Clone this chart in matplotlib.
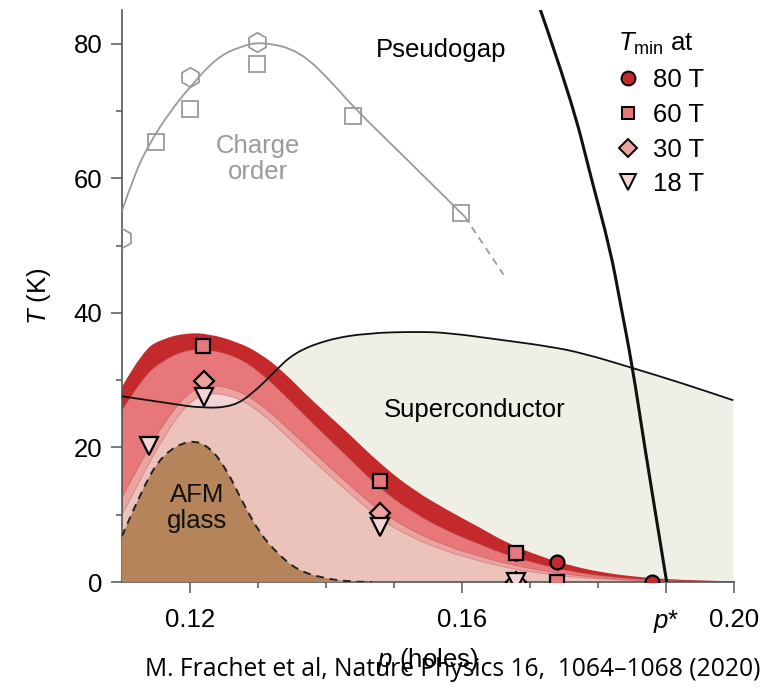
import numpy as np
import matplotlib
matplotlib.use("Agg")
import matplotlib.pyplot as plt
from matplotlib.lines import Line2D
from matplotlib.path import Path
from matplotlib.patches import PathPatch

plt.rcParams['font.family'] = ['Liberation Sans', 'DejaVu Sans']
plt.rcParams['mathtext.fontset'] = 'custom'
plt.rcParams['mathtext.it'] = 'Liberation Sans:italic'
plt.rcParams['mathtext.rm'] = 'Liberation Sans'

# superconducting dome (Tc line)
sc_p = [0.1100, 0.1166, 0.1220, 0.1264, 0.1293, 0.1322, 0.1352, 0.1401, 0.1460,
        0.1538, 0.1582, 0.1656, 0.1729, 0.1778, 0.1851, 0.1925, 0.1999]
sc_T = [27.6, 26.6, 25.8, 26.1, 28.1, 31.0, 34.0, 36.0, 37.0,
        37.2, 37.0, 36.0, 35.0, 34.0, 31.8, 29.5, 27.0]

# T_min regions (upper boundaries), shared p grid
band_p = [0.1100, 0.1131, 0.1161, 0.1195, 0.1227, 0.1269, 0.1303, 0.1337, 0.1381,
          0.1430, 0.1479, 0.1528, 0.1578, 0.1626, 0.1666, 0.1715, 0.1764, 0.1813,
          0.1862, 0.1921, 0.2000]
T80_edge = [29.0, 34.5, 36.2, 37.0, 36.9, 35.7, 34.0, 31.3, 26.8,
            22.4, 17.6, 13.7, 10.7, 8.1, 5.8, 3.8, 2.3, 1.3, 0.7, 0.3, 0.1]
T60_edge = [25.5, 30.5, 33.0, 34.5, 34.6, 33.5, 31.2, 28.0, 23.5,
            18.8, 13.9, 10.3, 7.6, 5.6, 4.0, 2.6, 1.5, 0.8, 0.4, 0.15, 0.05]
T30_edge = [12.5, 18.5, 23.5, 28.0, 29.4, 28.6, 26.5, 23.5, 19.3,
            14.8, 10.5, 7.5, 5.3, 3.8, 2.7, 1.7, 1.0, 0.5, 0.25, 0.1, 0.03]
T18_edge = [10.0, 16.0, 21.5, 26.5, 28.2, 27.5, 25.3, 22.2, 18.0,
            13.6, 9.3, 6.5, 4.5, 3.1, 2.1, 1.3, 0.7, 0.35, 0.15, 0.05, 0.0]

# AFM glass
afm_p = [0.1100, 0.1131, 0.1161, 0.1200, 0.1229, 0.1254, 0.1278, 0.1303, 0.1328,
         0.1357, 0.1396, 0.1436, 0.1468]
afm_T = [6.8, 14.2, 19.1, 21.2, 20.1, 16.7, 11.7, 7.2, 4.3, 1.8, 0.55, 0.05, 0.0]

# pseudogap T* line
pg_p = [0.1715, 0.1761, 0.1790, 0.1818, 0.1832, 0.1851, 0.1867, 0.1901]
pg_T = [85.1, 71.7, 60.0, 49.4, 41.9, 31.8, 21.1, 0.0]

# charge order
co_p = [0.1100, 0.1117, 0.1141, 0.1170, 0.1200, 0.1239, 0.1274, 0.1307, 0.1362,
        0.1411, 0.1440, 0.1519, 0.1604]
co_T = [55.1, 60.3, 65.3, 69.8, 73.6, 77.9, 79.6, 80.3, 78.9, 74.0, 70.6, 62.8, 54.3]
co_dash_p = [0.1604, 0.1661]
co_dash_T = [54.3, 45.7]
co_sq_p = [0.1150, 0.1200, 0.1298, 0.1439, 0.1598]
co_sq_T = [65.4, 70.3, 77.0, 69.2, 54.8]
co_hex_p = [0.1100, 0.1200, 0.1298]
co_hex_T = [51.1, 75.1, 80.3]

# T_min data points
p80 = [0.1679, 0.1739, 0.1879]
T80 = [4.3, 2.9, 0.0]
p60 = [0.1219, 0.1479, 0.1679, 0.1739]
T60 = [35.0, 15.0, 4.3, 0.0]
p30 = [0.1220, 0.1479, 0.1679]
T30 = [29.8, 10.2, 0.0]
p18 = [0.1140, 0.1220, 0.1479, 0.1679]
T18 = [20.2, 27.5, 8.2, 0.0]

legend_labels = ['80 T', '60 T', '30 T', '18 T']
xtick_pos = [0.12, 0.16, 0.19, 0.20]
xtick_lab = ['0.12', '0.16', '$p$*', '0.20']

c80, c60, c30, c18 = '#c42a2b', '#e8777a', '#eca29f', '#f4d5d6'
c_low = '#ecc3bb'
c_afm = '#b5845a'
c_sc = '#f0efe6'
gray = '#9a9a9a'


def smooth_path(xs, ys, closed=False):
    # quadratic bezier through midpoints, read points act as control points
    verts = [(xs[0], ys[0])]
    codes = [Path.MOVETO]
    for i in range(1, len(xs) - 1):
        verts += [(xs[i], ys[i]), ((xs[i] + xs[i+1]) / 2, (ys[i] + ys[i+1]) / 2)]
        codes += [Path.CURVE3, Path.CURVE3]
    verts.append((xs[-1], ys[-1]))
    codes.append(Path.LINETO)
    if closed:
        verts += [(xs[-1], 0), (xs[0], 0), (xs[0], ys[0])]
        codes += [Path.LINETO, Path.LINETO, Path.CLOSEPOLY]
    return Path(verts, codes)


def area(ax, xs, ys, color, z):
    patch = PathPatch(smooth_path(xs, ys, closed=True), fc=color, ec='none', zorder=z)
    ax.add_patch(patch)
    return patch


def curve(ax, xs, ys, **kw):
    patch = PathPatch(smooth_path(xs, ys), fc='none', **kw)
    ax.add_patch(patch)
    return patch


fig = plt.figure(figsize=(7.76, 6.93), dpi=100)
ax = fig.add_axes([122/776, 1-582/693, (734-122)/776, 572/693])

sc_patch = area(ax, sc_p, sc_T, c_sc, 1)
area(ax, band_p, T80_edge, c80, 2)
area(ax, band_p, T60_edge, c60, 2)
area(ax, band_p, T30_edge, c30, 2)
area(ax, band_p, T18_edge, c18, 2)
low = area(ax, band_p, T18_edge, c_low, 2)
low.set_clip_path(PathPatch(smooth_path(sc_p, sc_T, closed=True), transform=ax.transData))
for edge in (T60_edge, T30_edge, T18_edge):
    curve(ax, band_p, edge, ec='#a85050', lw=0.6, alpha=0.5, zorder=2.5)

area(ax, afm_p, afm_T, c_afm, 3)
curve(ax, afm_p, afm_T, ec='#222222', lw=1.4, ls=(0, (4, 3)), zorder=3.5)

curve(ax, sc_p, sc_T, ec='#111111', lw=1.3, zorder=4)
curve(ax, pg_p, pg_T, ec='#111111', lw=2.2, zorder=4)

curve(ax, co_p, co_T, ec=gray, lw=1.3, zorder=4)
ax.plot(co_dash_p, co_dash_T, color=gray, lw=1.3, ls=(0, (4, 3)), zorder=4)
ax.plot(co_sq_p, co_sq_T, ls='none', marker='s', ms=11, mfc='none', mec=gray, mew=1.3, zorder=5)
ax.plot(co_hex_p, co_hex_T, ls='none', marker='h', ms=14, mfc='none', mec=gray, mew=1.3, zorder=5)

mk = dict(ls='none', mec='black', mew=1.6, zorder=6)
ax.plot(p80, T80, marker='o', ms=10, mfc=c80, **mk)
ax.plot(p60, T60, marker='s', ms=10, mfc=c60, **mk)
ax.plot(p30, T30, marker='D', ms=10, mfc=c30, **mk)
ax.plot(p18, T18, marker='v', ms=13, mfc=c18, **mk)

fs = 18.5
ax.text(0.1570, 79.0, 'Pseudogap', fontsize=fs, ha='center', va='center')
ax.text(0.1300, 62.8, 'Charge\norder', fontsize=fs, ha='center', va='center',
        color=gray, linespacing=1.1)
ax.text(0.1618, 25.6, 'Superconductor', fontsize=fs, ha='center', va='center')
ax.text(0.1210, 11.0, 'AFM\nglass', fontsize=fs, ha='center', va='center',
        linespacing=1.1, color='#111111')

handles = [Line2D([], [], ls='none', marker='o', ms=10, mfc=c80, mec='black', mew=1.4),
           Line2D([], [], ls='none', marker='s', ms=9, mfc=c60, mec='black', mew=1.4),
           Line2D([], [], ls='none', marker='D', ms=9, mfc=c30, mec='black', mew=1.4),
           Line2D([], [], ls='none', marker='v', ms=12, mfc=c18, mec='black', mew=1.4)]
leg = ax.legend(handles, legend_labels, loc='upper left', frameon=False, fontsize=fs,
                title=r'$T_{\mathrm{min}}$ at', title_fontsize=fs, alignment='left',
                bbox_to_anchor=(600/776, 1-13/693), bbox_transform=fig.transFigure,
                handlelength=0.75, handletextpad=0.6, labelspacing=0.42, borderpad=0.2)

ax.set_xlim(0.11, 0.20)
ax.set_ylim(0, 85)
for s in ('top', 'right'):
    ax.spines[s].set_visible(False)
for s in ('left', 'bottom'):
    ax.spines[s].set_color('#555555')
    ax.spines[s].set_linewidth(1.2)

ax.set_yticks([0, 20, 40, 60, 80])
ax.set_yticks([10, 30, 50, 70], minor=True)
ax.set_xticks(xtick_pos)
ax.set_xticklabels(xtick_lab)
ax.set_xticks([0.13, 0.14, 0.15, 0.17, 0.18], minor=True)
ax.tick_params(which='major', direction='out', length=8, width=1.1, color='#555555',
               labelsize=fs, pad=6)
ax.tick_params(which='minor', direction='out', length=4.5, width=1.1, color='#555555')
ax.tick_params(axis='x', which='major', pad=11)

ax.set_ylabel('$T$ (K)', fontsize=fs)
ax.yaxis.set_label_coords(-0.112, 0.5)
ax.set_xlabel('$p$ (holes)', fontsize=fs)
ax.xaxis.set_label_coords(0.5, -0.112)

fig.text(453/776, 1-669/693, 'M. Frachet et al, Nature Physics 16,  1064\u20131068 (2020)',
         family='Open Sans', fontsize=17.7, ha='center', va='center')

fig.savefig('out.png', dpi=100)
